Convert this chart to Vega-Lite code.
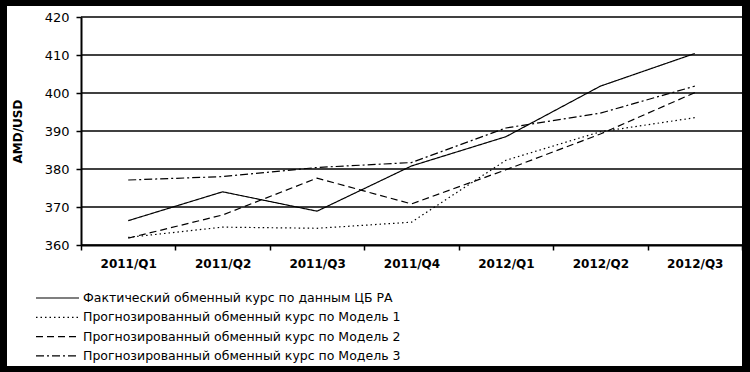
{
  "$schema": "https://vega.github.io/schema/vega-lite/v6.json",
  "width": 735,
  "height": 360,
  "autosize": {"type": "none"},
  "padding": {"left": 7, "top": 6, "right": 8, "bottom": 6},
  "background": "black",
  "config": {"view": {"fill": "white", "stroke": null}, "font": "DejaVu Sans"},
  "datasets": {
    "grid": [{"v": 360}, {"v": 370}, {"v": 380}, {"v": 390}, {"v": 400}, {"v": 410}, {"v": 420}],
    "series": [
      {"q": "2011/Q1", "s": "Фактический обменный курс по данным ЦБ РА", "v": 366.4},
      {"q": "2011/Q2", "s": "Фактический обменный курс по данным ЦБ РА", "v": 374.0},
      {"q": "2011/Q3", "s": "Фактический обменный курс по данным ЦБ РА", "v": 368.9},
      {"q": "2011/Q4", "s": "Фактический обменный курс по данным ЦБ РА", "v": 380.8},
      {"q": "2012/Q1", "s": "Фактический обменный курс по данным ЦБ РА", "v": 388.5},
      {"q": "2012/Q2", "s": "Фактический обменный курс по данным ЦБ РА", "v": 401.8},
      {"q": "2012/Q3", "s": "Фактический обменный курс по данным ЦБ РА", "v": 410.4},
      {"q": "2011/Q1", "s": "Прогнозированный обменный курс по Модель 1", "v": 362.0},
      {"q": "2011/Q2", "s": "Прогнозированный обменный курс по Модель 1", "v": 364.7},
      {"q": "2011/Q3", "s": "Прогнозированный обменный курс по Модель 1", "v": 364.4},
      {"q": "2011/Q4", "s": "Прогнозированный обменный курс по Модель 1", "v": 366.0},
      {"q": "2012/Q1", "s": "Прогнозированный обменный курс по Модель 1", "v": 382.3},
      {"q": "2012/Q2", "s": "Прогнозированный обменный курс по Модель 1", "v": 389.8},
      {"q": "2012/Q3", "s": "Прогнозированный обменный курс по Модель 1", "v": 393.5},
      {"q": "2011/Q1", "s": "Прогнозированный обменный курс по Модель 2", "v": 361.8},
      {"q": "2011/Q2", "s": "Прогнозированный обменный курс по Модель 2", "v": 367.9},
      {"q": "2011/Q3", "s": "Прогнозированный обменный курс по Модель 2", "v": 377.6},
      {"q": "2011/Q4", "s": "Прогнозированный обменный курс по Модель 2", "v": 370.8},
      {"q": "2012/Q1", "s": "Прогнозированный обменный курс по Модель 2", "v": 379.8},
      {"q": "2012/Q2", "s": "Прогнозированный обменный курс по Модель 2", "v": 389.2},
      {"q": "2012/Q3", "s": "Прогнозированный обменный курс по Модель 2", "v": 400.1},
      {"q": "2011/Q1", "s": "Прогнозированный обменный курс по Модель 3", "v": 377.1},
      {"q": "2011/Q2", "s": "Прогнозированный обменный курс по Модель 3", "v": 378.0},
      {"q": "2011/Q3", "s": "Прогнозированный обменный курс по Модель 3", "v": 380.4},
      {"q": "2011/Q4", "s": "Прогнозированный обменный курс по Модель 3", "v": 381.7},
      {"q": "2012/Q1", "s": "Прогнозированный обменный курс по Модель 3", "v": 390.8},
      {"q": "2012/Q2", "s": "Прогнозированный обменный курс по Модель 3", "v": 394.7},
      {"q": "2012/Q3", "s": "Прогнозированный обменный курс по Модель 3", "v": 401.8}
    ]
  },
  "layer": [
    {
      "data": {"name": "grid"},
      "mark": {"type": "rule", "color": "black", "strokeWidth": 1.5},
      "encoding": {
        "y": {"field": "v", "type": "quantitative"},
        "x": {"datum": "2011/Q1", "type": "nominal", "bandPosition": 0},
        "x2": {"datum": "2012/Q3", "bandPosition": 1}
      }
    },
    {
      "data": {"name": "series"},
      "mark": {"type": "line", "color": "black"},
      "encoding": {
        "x": {
          "field": "q",
          "type": "nominal",
          "sort": null,
          "scale": {
            "type": "band",
            "domain": ["2011/Q1", "2011/Q2", "2011/Q3", "2011/Q4", "2012/Q1", "2012/Q2", "2012/Q3"],
            "range": [74, 735],
            "paddingInner": 0,
            "paddingOuter": 0
          },
          "axis": {
            "orient": "bottom",
            "offset": -121,
            "title": null,
            "zindex": 1,
            "grid": false,
            "bandPosition": 0.5,
            "domainColor": "black",
            "domainWidth": 2,
            "tickBand": "extent",
            "tickColor": "black",
            "tickWidth": 1.5,
            "tickSize": 5,
            "labelAngle": 0,
            "labelAlign": "center",
            "labelFont": "DejaVu Sans",
            "labelFontWeight": "bold",
            "labelFontSize": 12,
            "labelColor": "black",
            "labelPadding": 13
          }
        },
        "y": {
          "field": "v",
          "type": "quantitative",
          "scale": {"domain": [360, 420], "range": [239, 11], "nice": false, "zero": false},
          "axis": {
            "orient": "left",
            "offset": -74,
            "values": [360, 370, 380, 390, 400, 410, 420],
            "title": "AMD/USD",
            "titleFont": "DejaVu Sans",
            "titleFontWeight": "bold",
            "titleFontSize": 12,
            "titleColor": "black",
            "titlePadding": 20,
            "zindex": 1,
            "grid": false,
            "domainColor": "black",
            "domainWidth": 2,
            "tickColor": "black",
            "tickWidth": 1.5,
            "tickSize": 5,
            "labelFont": "DejaVu Sans",
            "labelFontSize": 13,
            "labelColor": "black",
            "labelPadding": 7
          }
        },
        "strokeDash": {
          "field": "s",
          "type": "nominal",
          "scale": {
            "domain": [
              "Фактический обменный курс по данным ЦБ РА",
              "Прогнозированный обменный курс по Модель 1",
              "Прогнозированный обменный курс по Модель 2",
              "Прогнозированный обменный курс по Модель 3"
            ],
            "range": [[1, 0], [1.5, 3], [7, 4], [8, 3, 2, 3]]
          },
          "legend": {
            "title": null,
            "orient": "none",
            "legendX": 28,
            "legendY": 284,
            "symbolType": "stroke",
            "symbolSize": 1849,
            "symbolStrokeColor": "black",
            "symbolStrokeWidth": 1.3,
            "clipHeight": 16,
            "labelFont": "DejaVu Sans",
            "labelFontSize": 12.5,
            "labelColor": "black",
            "labelOffset": 3,
            "labelLimit": 0,
            "rowPadding": 3.3
          }
        },
        "strokeWidth": {
          "field": "s",
          "type": "nominal",
          "scale": {
            "domain": [
              "Фактический обменный курс по данным ЦБ РА",
              "Прогнозированный обменный курс по Модель 1",
              "Прогнозированный обменный курс по Модель 2",
              "Прогнозированный обменный курс по Модель 3"
            ],
            "range": [1.2, 1.2, 1.6, 1.3]
          },
          "legend": null
        }
      }
    }
  ]
}
